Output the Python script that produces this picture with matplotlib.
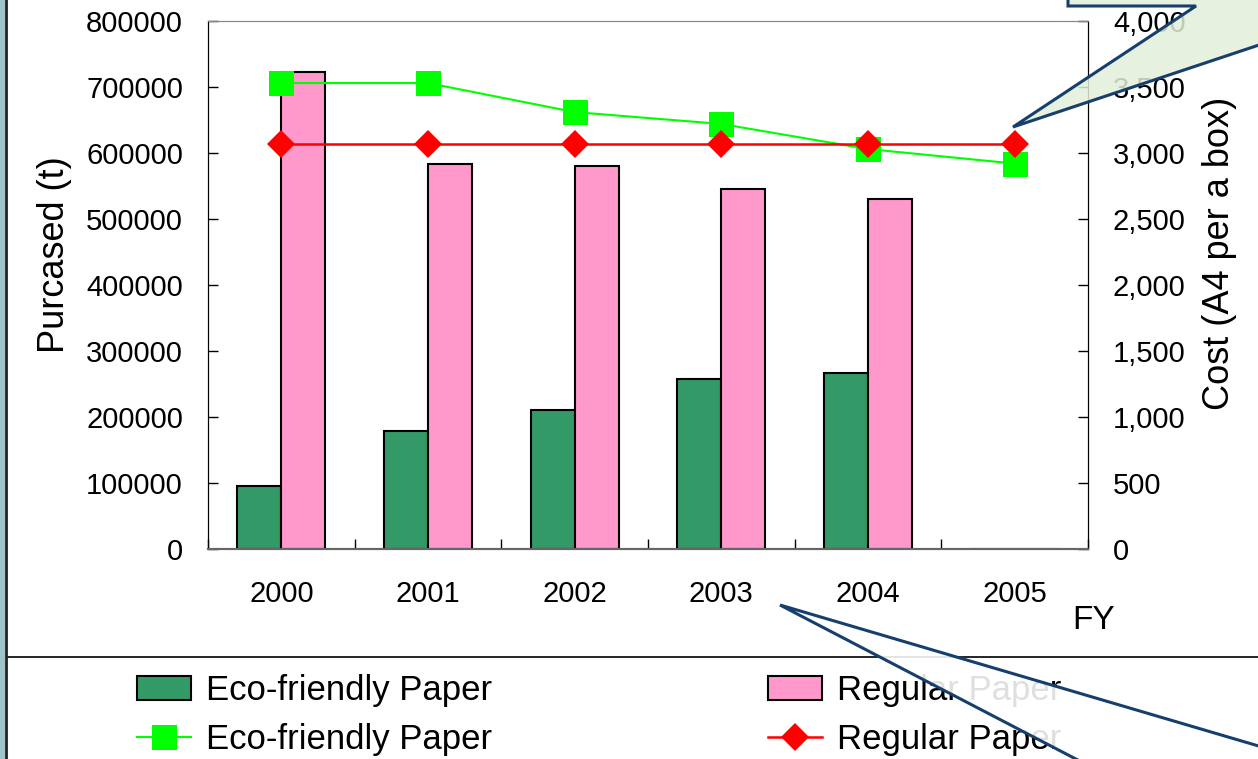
import matplotlib

matplotlib.use("Agg")
import matplotlib.pyplot as plt
import numpy as np
from matplotlib.lines import Line2D
from matplotlib.patches import Patch, Polygon, Rectangle
from matplotlib.ticker import FuncFormatter

plt.rcParams["font.family"] = ["Liberation Sans", "DejaVu Sans"]

years = ["2000", "2001", "2002", "2003", "2004", "2005"]
eco_purchased = [95000, 179000, 211000, 258000, 267000, 0]
regular_purchased = [722000, 584000, 580000, 546000, 531000, 0]
eco_cost = [3530, 3530, 3310, 3220, 3030, 2920]
regular_cost = [3065, 3065, 3065, 3065, 3065, 3065]

W, H = 1258, 759


def fx(px):
    return px / W


def fy(py):
    return 1 - py / H


fig = plt.figure(figsize=(W / 100, H / 100), dpi=100)
fig.patch.set_facecolor("white")

ax = fig.add_axes([fx(208), fy(549), fx(1088) - fx(208), fy(21) - fy(549)])
ax2 = ax.twinx()

x = np.arange(len(years))
bw = 0.3
ax.bar(x - bw / 2, eco_purchased, bw, color="#339966", edgecolor="black", linewidth=1.5,
       label="Eco-friendly Paper")
ax.bar(x + bw / 2, regular_purchased, bw, color="#ff99cc", edgecolor="black", linewidth=1.5,
       label="Regular Paper")

ax2.plot(x, eco_cost, color="#00ff00", linewidth=1.5, marker="s", markersize=18,
         markeredgewidth=0, label="Eco-friendly Paper")
ax2.plot(x, regular_cost, color="#ff0000", linewidth=1.8, marker="D", markersize=14,
         markeredgewidth=0, label="Regular Paper")

ax.set_xlim(-0.5, len(years) - 0.5)
ax.set_ylim(0, 800000)
ax2.set_ylim(0, 4000)
ax.set_yticks(np.arange(0, 800001, 100000))
ax2.set_yticks(np.arange(0, 4001, 500))
ax.yaxis.set_major_formatter(FuncFormatter(lambda v, p: f"{int(v)}"))
ax2.yaxis.set_major_formatter(FuncFormatter(lambda v, p: f"{int(v):,}"))

ax.set_xticks(x)
ax.set_xticklabels(years)
ax.set_xticks(np.arange(-0.5, len(years)), minor=True)
ax.tick_params(axis="x", which="major", length=0, pad=22, labelsize=21)
ax.tick_params(axis="x", which="minor", direction="in", length=7, width=1)
ax.tick_params(axis="y", direction="in", length=7, width=1, pad=18, labelsize=21)
ax2.tick_params(axis="y", direction="in", length=7, width=1, pad=18, labelsize=21)

for a in (ax, ax2):
    a.spines["top"].set_color("#888888")
    a.spines["bottom"].set_color("#666666")
    a.spines["left"].set_color("black")
    a.spines["right"].set_color("black")
    a.spines["bottom"].set_linewidth(1.5)

ax.set_ylabel("Purcased (t)", fontsize=26)
ax.yaxis.set_label_coords(-0.155, 0.557)
ax2.set_ylabel("Cost (A4 per a box)", fontsize=26)
ax2.yaxis.set_label_coords(1.13, 0.56)
ax.text(1.006, -0.136, "FY", transform=ax.transAxes, fontsize=24, ha="center", va="center")

# legend below the separator line
eco_bar = Patch(facecolor="#339966", edgecolor="black", linewidth=1.5)
reg_bar = Patch(facecolor="#ff99cc", edgecolor="black", linewidth=1.5)
eco_line = Line2D([], [], color="#00ff00", linewidth=1.5, marker="s", markersize=18,
                  markeredgewidth=0)
reg_line = Line2D([], [], color="#ff0000", linewidth=1.8, marker="D", markersize=14,
                  markeredgewidth=0)
leg_kw = dict(loc="upper left", frameon=False, fontsize=25, handlelength=1.56,
              handleheight=0.66, handletextpad=0.43, labelspacing=0.47, borderpad=0,
              borderaxespad=0)
fig.legend([eco_bar, eco_line], ["Eco-friendly Paper", "Eco-friendly Paper"],
           bbox_to_anchor=(fx(137), fy(674)), **leg_kw)
fig.legend([reg_bar, reg_line], ["Regular Paper", "Regular Paper"],
           bbox_to_anchor=(fx(768), fy(674)), **leg_kw)

# slide decorations
fig.add_artist(Line2D([fx(8), 1], [fy(657), fy(657)], color="black", linewidth=1.2,
                      transform=fig.transFigure))
fig.add_artist(Rectangle((0, 0), fx(5), 1, transform=fig.transFigure,
                         facecolor="#9fc4c8", edgecolor="none"))
fig.add_artist(Line2D([fx(6), fx(6)], [0, 1], color="#222222", linewidth=2,
                      transform=fig.transFigure))

top_callout = [(1068, -10), (1068, 6), (1196, 6), (1013, 127), (1262, 44), (1262, -10)]
fig.add_artist(Polygon([(fx(a), fy(b)) for a, b in top_callout], closed=True,
                       transform=fig.transFigure, facecolor="#e2efda", alpha=0.85,
                       edgecolor="none", zorder=10))
fig.add_artist(Polygon([(fx(a), fy(b)) for a, b in top_callout], closed=True,
                       transform=fig.transFigure, facecolor="none",
                       edgecolor="#173f6e", linewidth=2.2, zorder=11))

bottom_callout = [(780, 605), (1262, 747), (1262, 770), (1097, 770)]
fig.add_artist(Polygon([(fx(a), fy(b)) for a, b in bottom_callout], closed=True,
                       transform=fig.transFigure, facecolor="white", alpha=0.88,
                       edgecolor="none", zorder=10))
fig.add_artist(Line2D([fx(1262), fx(780), fx(1097)], [fy(747), fy(605), fy(770)],
                      color="#173f6e", linewidth=2.2, transform=fig.transFigure,
                      zorder=11, solid_joinstyle="miter"))

fig.savefig("out.png", dpi=100)
